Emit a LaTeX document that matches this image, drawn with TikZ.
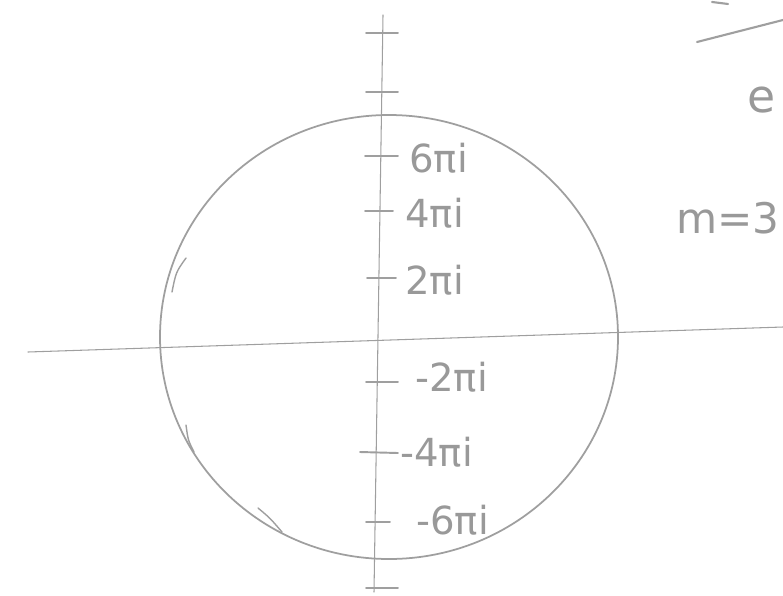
\documentclass[tikz,border=0pt]{standalone}
\usepackage{fontspec}
\setmainfont{DejaVu Sans}
\usepackage{tikz}
\usetikzlibrary{positioning, calc}

\tikzset{
  pencil/.style={draw=gray!75, line width=0.8pt, line cap=round},
  ticklbl/.style={text=gray!80, font=\fontsize{22}{22}\selectfont, anchor=west, inner sep=0pt},
  tickmark/.style={pencil, line width=1.1pt}
}

\begin{document}
\begin{tikzpicture}[x=0.02cm, y=-0.02cm]
\useasboundingbox (0,0) rectangle (783,595);

% axes
\coordinate (xl) at (28,352);
\coordinate (xr) at (783,327);
\coordinate (yt) at (383,15);
\coordinate (yb) at (374,592);
\coordinate (o) at (378,340);
\draw[pencil, line width=0.6pt] (xl) -- (xr);
\draw[pencil, line width=0.6pt] (yt) -- (yb);

% the circle
\draw[pencil, line width=1pt] (389,337) ellipse (229 and 222);
\draw[pencil] (186,258) .. controls (176,272) .. (172,292);
\draw[pencil] (186,425) .. controls (188,440) .. (194,452);
\draw[pencil] (258,508) .. controls (270,518) .. (282,532);

% ticks on the imaginary axis
\foreach \yy in {33, 92, 588} {
  \draw[tickmark] (366,\yy) -- (398,\yy);
}
\node[ticklbl] (p6) at (409,158) {6πi};
\node[ticklbl] (p4) at (405,213) {4πi};
\node[ticklbl] (p2) at (405,280) {2πi};
\node[ticklbl] (m2) at (415,377) {-2πi};
\node[ticklbl] (m4) at (400,452) {-4πi};
\node[ticklbl] (m6) at (416,520) {-6πi};
\draw[tickmark] (365,156) -- (398,156);
\draw[tickmark] (365,211) -- (393,211);
\draw[tickmark] (367,278) -- (396,278);
\draw[tickmark] (366,382) -- (398,382);
\draw[tickmark] (360,452) -- (398,453);
\draw[tickmark] (366,522) -- (390,522);

% note on the right
\node[ticklbl, font=\fontsize{24}{24}\selectfont] (mm) at (676,218) {m=3};

% cut-off fraction at the top right
\draw[pencil, line width=1.2pt] (697,42) -- (783,20);
\draw[pencil, line width=1.2pt] (712,2) -- (728,4);
\node[ticklbl, font=\fontsize{26}{26}\selectfont] (ee) at (747,100) {e};
\end{tikzpicture}
\end{document}
